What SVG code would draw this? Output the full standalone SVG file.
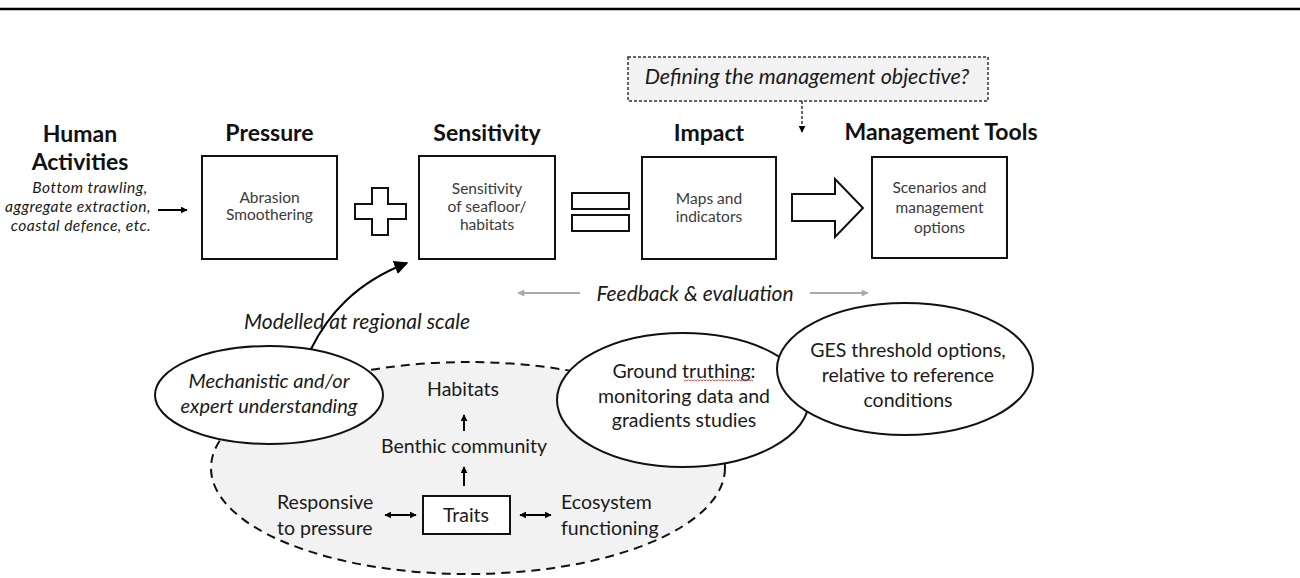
<svg xmlns="http://www.w3.org/2000/svg" width="1300" height="578" viewBox="0 0 1300 578">
<defs>
<marker id="ahs" viewBox="0 0 10 10" refX="9" refY="5" markerWidth="7" markerHeight="7" markerUnits="userSpaceOnUse" orient="auto-start-reverse"><path d="M0,0 L10,5 L0,10 z" fill="#000"/></marker>
<marker id="ahg" viewBox="0 0 10 10" refX="9" refY="5" markerWidth="9" markerHeight="7" markerUnits="userSpaceOnUse" orient="auto"><path d="M0,0 L10,5 L0,10 z" fill="#aaa"/></marker>
<marker id="ahb" viewBox="0 0 10 10" refX="9" refY="5" markerWidth="14" markerHeight="14" markerUnits="userSpaceOnUse" orient="auto"><path d="M0,0 L10,5 L0,10 z" fill="#000"/></marker>
</defs>
<style>
.t{font-family:Lato,"Open Sans",sans-serif;fill:#1a1a1a;text-anchor:middle}
.title{font-weight:bold;font-size:23px;fill:#111}
.box{fill:#fff;stroke:#111;stroke-width:2}
.bt{font-size:15.5px;fill:#3a3a3a}
.it{font-style:italic}
.ha{font-size:15.6px;letter-spacing:0.45px}
.ell{fill:#fff;stroke:#111;stroke-width:2}
.lt{font-size:19.5px}
.et{font-size:19.5px}
.ln{stroke:#000;stroke-width:2;fill:none}
</style>
<line x1="0" y1="9" x2="1300" y2="9" stroke="#000" stroke-width="2.5"/>

<g id="human-activities">
<text class="t title" x="80" y="142">Human</text>
<text class="t title" x="80" y="170">Activities</text>
<text class="t it ha" x="90" y="193">Bottom trawling,</text>
<text class="t it ha" x="78" y="212">aggregate extraction,</text>
<text class="t it ha" x="81" y="231">coastal defence, etc.</text>
</g>

<g id="pressure">
<text class="t title" x="269.5" y="141">Pressure</text>
<rect class="box" x="202" y="156" width="135" height="103"/>
<text class="t bt" x="269.5" y="203">Abrasion</text>
<text class="t bt" x="269.5" y="220">Smoothering</text>
</g>

<g id="plus">
<polygon class="box" points="372,188 388,188 388,204 406,204 406,219 388,219 388,235 372,235 372,219 355,219 355,204 372,204"/>
</g>

<g id="sensitivity">
<text class="t title" x="487" y="141">Sensitivity</text>
<rect class="box" x="419" y="156" width="136" height="103"/>
<text class="t bt" x="487" y="194">Sensitivity</text>
<text class="t bt" x="487" y="212">of seafloor/</text>
<text class="t bt" x="487" y="230">habitats</text>
</g>

<g id="equals">
<rect class="box" x="572" y="193" width="57" height="16"/>
<rect class="box" x="572" y="215" width="57" height="16"/>
</g>

<g id="impact">
<text class="t title" x="709" y="141">Impact</text>
<rect class="box" x="642" y="157" width="134" height="102"/>
<text class="t bt" x="709" y="204">Maps and</text>
<text class="t bt" x="709" y="222">indicators</text>
</g>

<g id="big-arrow">
<polygon class="box" points="792,194 835,194 835,179 863,208 835,237 835,221 792,221"/>
</g>

<g id="management-tools">
<text class="t title" x="941" y="140">Management Tools</text>
<rect class="box" x="872" y="157" width="135" height="101"/>
<text class="t bt" x="939.5" y="193">Scenarios and</text>
<text class="t bt" x="939.5" y="213">management</text>
<text class="t bt" x="939.5" y="233">options</text>
</g>

<g id="management-objective">
<rect x="628" y="57" width="360" height="44" fill="#f2f2f2" stroke="#333" stroke-width="1.5" stroke-dasharray="3,2"/>
<text class="t it" font-size="21.5" x="807" y="84">Defining the management objective?</text>
</g>

<g id="feedback">
<text class="t it" font-size="21" x="695" y="301">Feedback &amp; evaluation</text>
</g>

<g id="modelled-label">
<text class="t it" font-size="21" x="357" y="329">Modelled at regional scale</text>
</g>

<g id="traits-system">
<ellipse cx="468" cy="468" rx="257" ry="106" fill="#f2f2f2" stroke="#111" stroke-width="2" stroke-dasharray="9,6"/>
</g>

<g id="mechanistic">
<ellipse class="ell" cx="269" cy="395" rx="114" ry="49"/>
<text class="t it" font-size="20" x="269" y="388">Mechanistic and/or</text>
<text class="t it" font-size="20" x="269" y="413">expert understanding</text>
</g>

<g id="ground-truthing">
<ellipse class="ell" cx="683" cy="400" rx="126" ry="67"/>
<text class="t et" x="684" y="378">Ground truthing:</text>
<text class="t et" x="684" y="403">monitoring data and</text>
<text class="t et" x="684" y="427">gradients studies</text>
<path d="M684,381 l1.5,-1.2 l1.5,1.2 l1.5,-1.2 l1.5,1.2 l1.5,-1.2 l1.5,1.2 l1.5,-1.2 l1.5,1.2 l1.5,-1.2 l1.5,1.2 l1.5,-1.2 l1.5,1.2 l1.5,-1.2 l1.5,1.2 l1.5,-1.2 l1.5,1.2 l1.5,-1.2 l1.5,1.2 l1.5,-1.2 l1.5,1.2 l1.5,-1.2 l1.5,1.2 l1.5,-1.2 l1.5,1.2 l1.5,-1.2 l1.5,1.2 l1.5,-1.2 l1.5,1.2 l1.5,-1.2 l1.5,1.2 l1.5,-1.2 l1.5,1.2 l1.5,-1.2 l1.5,1.2 l1.5,-1.2 l1.5,1.2 l1.5,-1.2 l1.5,1.2 l1.5,-1.2 l1.5,1.2 l1.5,-1.2 l1.5,1.2 l1.5,-1.2 l1.5,1.2 l1.5,-1.2 l1.5,1.2" fill="none" stroke="#e04040" stroke-width="0.9"/>
</g>

<g id="ges-threshold">
<ellipse class="ell" cx="905" cy="369" rx="128" ry="66"/>
<text class="t et" x="908" y="357">GES threshold options,</text>
<text class="t et" x="908" y="382">relative to reference</text>
<text class="t et" x="908" y="407">conditions</text>
</g>

<g id="habitats"><text class="t lt" x="463" y="396">Habitats</text></g>
<g id="benthic-community"><text class="t lt" x="464" y="453">Benthic community</text></g>
<g id="traits">
<rect class="box" x="423" y="496" width="87" height="38"/>
<text class="t lt" x="466" y="522">Traits</text>
</g>
<g id="responsive">
<text class="t lt" x="277" y="509" style="text-anchor:start">Responsive</text>
<text class="t lt" x="277" y="535" style="text-anchor:start">to pressure</text>
</g>
<g id="ecosystem">
<text class="t lt" x="561" y="509" style="text-anchor:start">Ecosystem</text>
<text class="t lt" x="561" y="535" style="text-anchor:start">functioning</text>
</g>

<g id="connectors">
<line class="ln" x1="158" y1="210" x2="187" y2="210" marker-end="url(#ahs)"/>
<line x1="802" y1="101" x2="802" y2="132" stroke="#333" stroke-width="1.5" stroke-dasharray="3,2" marker-end="url(#ahs)"/>
<line x1="580" y1="293" x2="518" y2="293" stroke="#aaa" stroke-width="2" marker-end="url(#ahg)"/>
<line x1="810" y1="293" x2="868" y2="293" stroke="#aaa" stroke-width="2" marker-end="url(#ahg)"/>
<path class="ln" d="M311,349 C328,315 355,283 407,263" marker-end="url(#ahb)"/>
<line class="ln" x1="464" y1="431" x2="464" y2="415" marker-end="url(#ahs)"/>
<line class="ln" x1="464" y1="486" x2="464" y2="467" marker-end="url(#ahs)"/>
<line class="ln" x1="385" y1="515" x2="416" y2="515" marker-start="url(#ahs)" marker-end="url(#ahs)"/>
<line class="ln" x1="520" y1="515" x2="551" y2="515" marker-start="url(#ahs)" marker-end="url(#ahs)"/>
</g>
</svg>
